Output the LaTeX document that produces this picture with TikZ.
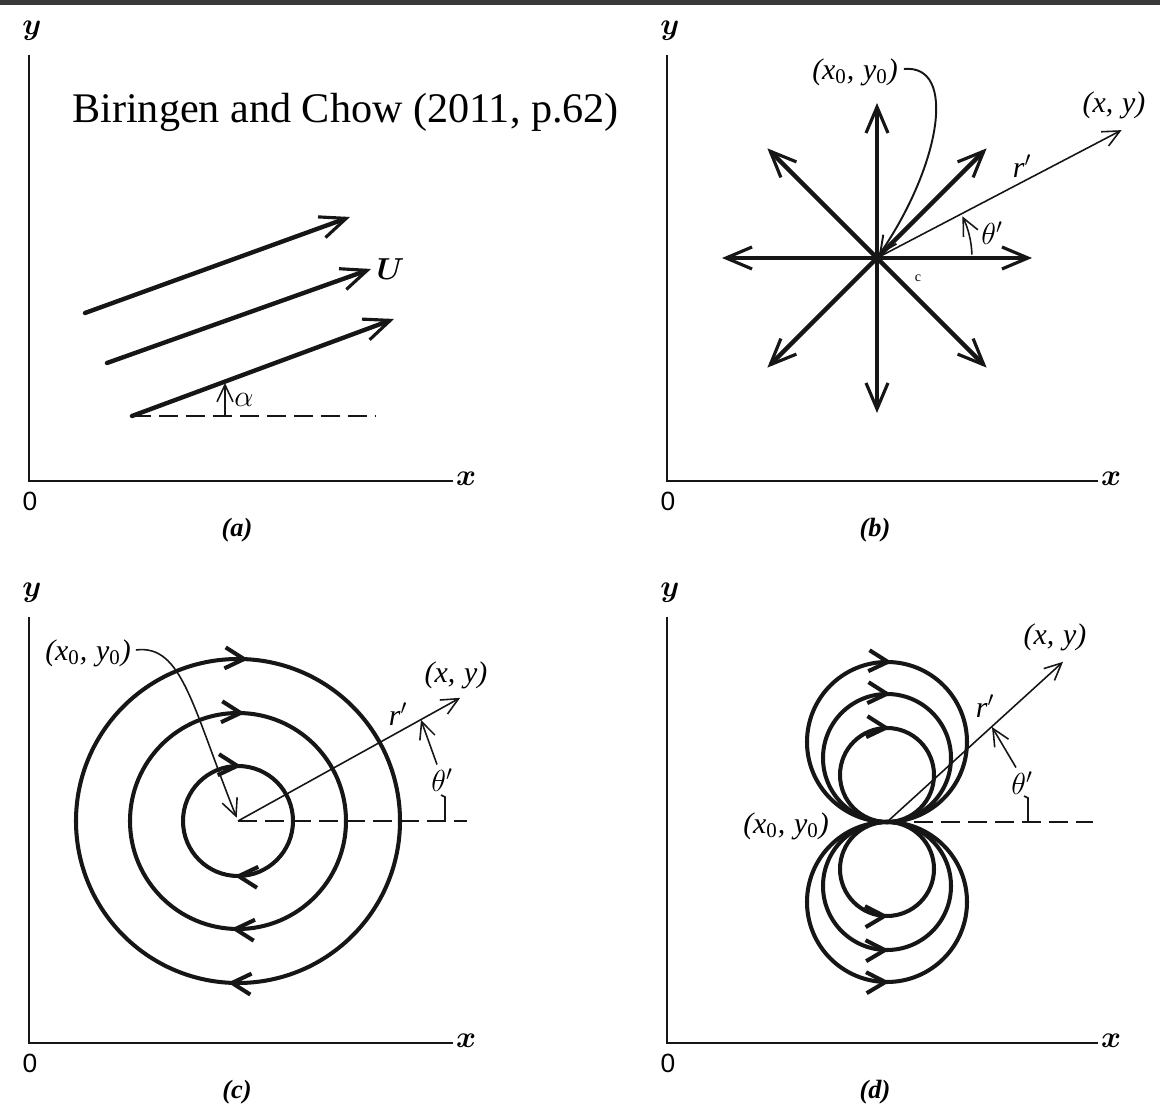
\documentclass[tikz,border=0pt]{standalone}
\usepackage{amsmath,amssymb}
\usepackage{fontspec}
\setmainfont{Liberation Serif}
\setsansfont{Liberation Sans}
\usepackage{tikz}
\usetikzlibrary{arrows.meta,positioning,calc,decorations.markings}
\definecolor{ink}{RGB}{22,22,22}
\definecolor{topbar}{RGB}{58,58,58}
\newcommand{\ptxy}{\textit{(x,\hspace{0.3em}y)}}
\newcommand{\ptxyzero}{\textit{(x\textsubscript{\upshape 0},\hspace{0.3em}y\textsubscript{\upshape 0})}}
\newcommand{\rprime}{\textit{r}$'$}

\begin{document}
\begin{tikzpicture}[
    x=0.02cm,y=0.02cm,
    axis/.style={draw=ink,line width=1.3pt},
    flowarrow/.style={draw=ink,line width=2.5pt,line cap=round,
      -{Straight Barb[length=5.2mm,width=4.4mm,line width=1.8pt]}},
    rayline/.style={draw=ink,line width=0.9pt,
      -{Straight Barb[length=3.4mm,width=3.2mm]}},
    guide/.style={draw=ink,line width=1pt,dash pattern=on 0.38cm off 0.16cm},
    streamline/.style={draw=ink,line width=2.3pt},
    cwmarks/.style={postaction={decorate},decoration={markings,
      mark=at position 0.24 with {\arrowreversed{Straight Barb[length=3.8mm,width=4.2mm]}},
      mark=at position 0.74 with {\arrowreversed{Straight Barb[length=3.8mm,width=4.2mm]}}}},
    topmark/.style={postaction={decorate},decoration={markings,
      mark=at position 0.24 with {\arrowreversed{Straight Barb[length=3.8mm,width=4.2mm]}}}},
    botmark/.style={postaction={decorate},decoration={markings,
      mark=at position 0.755 with {\arrow{Straight Barb[length=3.8mm,width=4.2mm]}}}},
    lbl/.style={font=\fontsize{17}{20}\selectfont,inner sep=1pt},
    axlbl/.style={font=\fontsize{17}{20}\selectfont,inner sep=0pt},
    zero/.style={font=\fontsize{15}{17}\selectfont\sffamily,inner sep=0pt},
    panelcap/.style={font=\fontsize{15}{18}\selectfont\bfseries\itshape,inner sep=0pt}
  ]
    \useasboundingbox (0,0) rectangle (1160,1106);
    \fill[topbar] (0,1101) rectangle (1160,1106);

    % axes of the four panels
    \foreach \ox/\oy/\len/\lab in {29/625/424/a,667/625/431/b,29/63/424/c,667/63/431/d}{
      \coordinate (O\lab) at (\ox,\oy);
      \coordinate (Y\lab) at (\ox,\oy+426);
      \coordinate (X\lab) at (\ox+\len,\oy);
      \draw[axis] (Y\lab) -- (O\lab) -- (X\lab);
      \node[axlbl] (ylab\lab) at ($(Y\lab)+(3,24)$) {$\boldsymbol{y}$};
      \node[axlbl] (xlab\lab) at ($(X\lab)+(13,2)$) {$\boldsymbol{x}$};
      \node[zero] (zero\lab) at ($(O\lab)+(1,-20)$) {0};
      \node[panelcap] (cap\lab) at ($(O\lab)+(208,-49)$) {(\lab)};
    }

    \node[anchor=base west,inner sep=0pt,font=\fontsize{24}{28}\selectfont] (source) at (72,983)
      {Biringen and Chow (2011, p.62)};

    % (a) uniform flow
    \coordinate (ua1) at (85,793);
    \coordinate (ua2) at (107,743);
    \coordinate (ua3) at (132,690);
    \draw[flowarrow] (ua1) -- (350,889);
    \draw[flowarrow] (ua2) -- (371,837) coordinate (ub2);
    \draw[flowarrow] (ua3) -- (394,787);
    \draw[guide] (ua3) -- (375,690);
    \node[lbl,right=2pt of ub2] (U) {$\boldsymbol{U}$};
    \draw[rayline] (225,690) -- (225,723);
    \node[lbl] (alpha) at (244,706) {$\alpha$};

    % (b) source
    \coordinate (Cb) at (877,848);
    \foreach \ang in {0,45,...,315}
      \draw[flowarrow] (Cb) -- ++(\ang:155);
    \draw[rayline] (Cb) -- ++(27.6:276) coordinate (Pb);
    \node[lbl] (xyb) at (1114,1001) {\ptxy};
    \node[lbl] (rb) at (1022,940) {\rprime};
    \draw[rayline] ($(Cb)+(2:95)$) arc[start angle=2,end angle=26,radius=95];
    \node[lbl] (thb) at (992,873) {$\theta'$};
    \node[font=\fontsize{8}{8}\selectfont,inner sep=0pt] (nick) at (918,828) {c};
    \node[lbl] (x0b) at (855,1034) {\ptxyzero};
    \draw[rayline,line width=1.1pt,shorten >=2pt] ($(x0b.east)+(4,3)$)
      .. controls (958,1042) and (940,940) .. (Cb);

    % (c) vortex
    \coordinate (Cc) at (238,285);
    \foreach \rad in {162,108,55}
      \draw[streamline,cwmarks] (Cc) circle[radius=\rad];
    \draw[guide] (Cc) -- (467,285);
    \draw[rayline] (Cc) -- ++(29:254) coordinate (Pc);
    \node[lbl] (xyc) at (456,431) {\ptxy};
    \node[lbl] (rc) at (398,392) {\rprime};
    \node[lbl] (thc) at (442,326) {$\theta'$};
    \draw[rayline] (thc.north) ++(-5,2) -- (421,386);
    \draw[ink,line width=0.9pt] (445,285) -- (445,309) -- (441,311);
    \node[lbl] (x0c) at (88,453) {\ptxyzero};
    \draw[rayline,shorten >=2pt] ($(x0c.east)+(3,3)$) .. controls (182,462) and (192,400) .. (Cc);

    % (d) doublet
    \coordinate (Pd) at (887,284);
    \foreach \rad in {80,64,47}{
      \draw[streamline,topmark] ($(Pd)+(0,\rad)$) circle[radius=\rad];
      \draw[streamline,botmark] ($(Pd)-(0,\rad)$) circle[radius=\rad];
    }
    \draw[guide] (Pd) -- (1093,284);
    \draw[rayline] (Pd) -- ++(42.3:238) coordinate (Qd);
    \node[lbl] (xyd) at (1055,469) {\ptxy};
    \node[lbl] (rd) at (985,400) {\rprime};
    \node[lbl] (thd) at (1022,323) {$\theta'$};
    \draw[rayline] (thd.north) ++(-6,2) -- (992,379);
    \draw[ink,line width=0.9pt] (1028,284) -- (1028,308) -- (1024,310);
    \node[lbl] (x0d) at (786,280) {\ptxyzero};
  \end{tikzpicture}
\end{document}
